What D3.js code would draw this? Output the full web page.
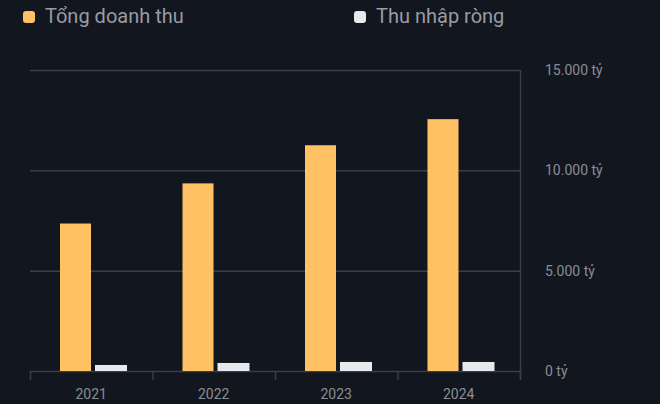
<!DOCTYPE html>
<html>
<head>
  <meta charset="utf-8" />
  <style>
    body { margin: 0; background: #12161f; }
    svg { display: block; font-family: Roboto, sans-serif; }
  </style>
</head>
<body>
  <svg id="chart" width="660" height="404"></svg>
  <script src="https://cdn.jsdelivr.net/npm/d3@7"></script>
  <script>
    var years = ['2021', '2022', '2023', '2024']
    var revenue = [7350, 9350, 11250, 12550]
    var netIncome = [300, 400, 450, 450]
    var yTicks = [0, 5000, 10000, 15000]

    var svg = d3.select('#chart')
    svg.append('rect').attr('width', 660).attr('height', 404).attr('fill', '#12161f')

    var x = d3.scaleBand().domain(years).range([30, 520])
    var y = d3.scaleLinear().domain([0, 15000]).range([371, 70])

    // gridlines
    svg.append('g').selectAll('line').data(yTicks).enter().append('line')
      .attr('x1', 30).attr('x2', 520)
      .attr('y1', function (d) { return y(d) + 0.5 })
      .attr('y2', function (d) { return y(d) + 0.5 })
      .attr('stroke', '#3a3e49').attr('stroke-width', 1.5)

    // right axis line
    svg.append('line').attr('x1', 520.5).attr('x2', 520.5).attr('y1', 70).attr('y2', 380)
      .attr('stroke', '#3a3e49').attr('stroke-width', 1.5)

    svg.append('g').selectAll('text').data(yTicks).enter().append('text')
      .attr('x', 545).attr('y', function (d) { return y(d) + 5 })
      .attr('fill', '#8a8d94').attr('font-size', 14)
      .text(function (d) { return d3.format(',')(d).replace(/,/g, '.') + ' tỷ' })

    // bottom ticks at band boundaries
    var bounds = years.map(function (d) { return x(d) }).concat([520])
    svg.append('g').selectAll('line').data(bounds).enter().append('line')
      .attr('x1', function (d) { return d + 0.5 }).attr('x2', function (d) { return d + 0.5 })
      .attr('y1', 371).attr('y2', 380)
      .attr('stroke', '#3a3e49').attr('stroke-width', 1.5)

    svg.append('g').selectAll('text').data(years).enter().append('text')
      .attr('x', function (d) { return x(d) + x.bandwidth() / 2 }).attr('y', 399)
      .attr('text-anchor', 'middle').attr('fill', '#8a8d94').attr('font-size', 14)
      .text(function (d) { return d })

    // bars
    svg.append('g').selectAll('rect').data(revenue).enter().append('rect')
      .attr('x', function (d, i) { return x(years[i]) + 30 })
      .attr('width', 31)
      .attr('y', function (d) { return y(d) })
      .attr('height', function (d) { return y(0) - y(d) })
      .attr('fill', '#ffc163')

    svg.append('g').selectAll('rect').data(netIncome).enter().append('rect')
      .attr('x', function (d, i) { return x(years[i]) + 65 })
      .attr('width', 32)
      .attr('y', function (d) { return y(d) })
      .attr('height', function (d) { return y(0) - y(d) })
      .attr('fill', '#e8e9ec')

    // legend
    var legend = [
      { label: 'Tổng doanh thu', color: '#ffc163', x: 23 },
      { label: 'Thu nhập ròng', color: '#e8e9ec', x: 354 }
    ]
    var lg = svg.append('g').selectAll('g').data(legend).enter().append('g')
      .attr('transform', function (d) { return 'translate(' + d.x + ',0)' })
    lg.append('rect').attr('x', 0).attr('y', 11).attr('width', 12).attr('height', 12).attr('rx', 3)
      .attr('fill', function (d) { return d.color })
    lg.append('text').attr('x', 22).attr('y', 23).attr('fill', '#9a9ca2').attr('font-size', 20)
      .text(function (d) { return d.label })
    lg.filter(function (d, i) { return i === 1 }).attr('transform', 'translate(354,0)')
    lg.filter(function (d, i) { return i === 1 }).select('rect').attr('x', 0)
  </script>
</body>
</html>
